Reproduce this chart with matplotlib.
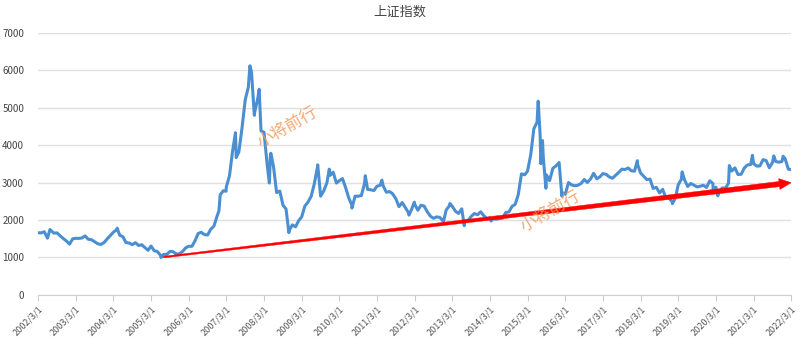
import numpy as np
import matplotlib
matplotlib.use("Agg")
import matplotlib.pyplot as plt
import matplotlib.dates as mdates
from matplotlib.patches import Polygon
from matplotlib.transforms import IdentityTransform
import pandas as pd

plt.rcParams['font.family'] = ['Noto Sans CJK SC', 'DejaVu Sans']

# monthly levels (first trading day of each month), 2002/3 .. 2022/3
monthly = [
    1660, 1657, 1688, 1515, 1732, 1651, 1657, 1581, 1507, 1442,
    1357, 1500, 1512, 1510, 1521, 1576, 1487, 1476, 1421, 1367, 1348, 1397,
    1497, 1590, 1675, 1742, 1595, 1555, 1399, 1386, 1342, 1396, 1320, 1340,
    1266, 1191, 1306, 1181, 1159, 1060, 1080, 1083, 1162, 1155, 1092, 1099,
    1161, 1258, 1299, 1298, 1440, 1641, 1672, 1612, 1601, 1752, 1837, 2099,
    2675, 2786, 2881, 3183, 3841, 4109, 3820, 4471, 5218, 5552, 5954, 4871,
    5261, 4383, 4348, 3472, 3693, 3433, 2736, 2775, 2397, 2293, 1728, 1871,
    1820, 1990, 2082, 2373, 2477, 2632, 2959, 3412, 2667, 2779, 2996, 3195,
    3277, 2989, 3051, 3109, 2870, 2592, 2398, 2638, 2638, 2655, 2978, 2820,
    2808, 2790, 2905, 2928, 2911, 2743, 2762, 2701, 2567, 2359, 2468, 2333,
    2199, 2292, 2428, 2262, 2396, 2373, 2225, 2103, 2047, 2086, 2069, 1980,
    2269, 2385, 2365, 2236, 2178, 2300, 1979, 1994, 2098, 2175, 2141, 2220,
    2116, 2033, 2056, 2033, 2026, 2039, 2048, 2201, 2217, 2364, 2420, 2683,
    3235, 3210, 3310, 3748, 4441, 4612, 4277, 3664, 3206, 3053, 3383, 3445,
    3539, 2738, 2688, 3004, 2938, 2917, 2930, 2979, 3085, 3005, 3100, 3250,
    3104, 3159, 3242, 3223, 3155, 3117, 3192, 3273, 3361, 3349, 3393, 3317,
    3307, 3481, 3259, 3169, 3082, 3095, 2847, 2876, 2725, 2821, 2603, 2588,
    2494, 2585, 2941, 3091, 3078, 2899, 2979, 2933, 2886, 2905, 2929, 2872,
    3050, 2977, 2880, 2750, 2860, 2852, 2985, 3310, 3396, 3218, 3225, 3392,
    3473, 3483, 3509, 3442, 3447, 3615, 3591, 3397, 3544, 3568, 3547, 3564,
    3640, 3361, 3350,
]
monthly_dates = pd.date_range("2002-03-01", "2022-03-01", freq="MS")

# intra-month highs and lows
extreme_dates = [
    "2002-06-25", "2004-04-07", "2005-06-06", "2006-12-20", "2007-02-27",
    "2007-05-29", "2007-06-05", "2007-10-16", "2007-11-28", "2008-01-14",
    "2008-04-22", "2008-05-06", "2008-10-28", "2009-08-04", "2009-09-01",
    "2009-11-24", "2010-07-02", "2010-11-08", "2011-04-18", "2012-01-06",
    "2012-02-27", "2012-12-04", "2013-02-06", "2013-06-25", "2014-03-12",
    "2015-06-12", "2015-07-08", "2015-07-24", "2015-08-26", "2016-01-28",
    "2018-01-29", "2019-01-04", "2019-04-08", "2020-02-03", "2020-03-19",
    "2020-07-09", "2021-02-18", "2021-09-13", "2021-12-13",
]
extreme_vals = [
    1748, 1783, 998, 2250, 2770,
    4335, 3670, 6124, 4800, 5497,
    2990, 3786, 1664, 3478, 2639,
    3361, 2319, 3186, 3067, 2132,
    2478, 1949, 2444, 1849, 1974,
    5178, 3507, 4124, 2850, 2638,
    3587, 2440, 3288, 2746, 2646,
    3458, 3731, 3715, 3708,
]

s = pd.concat([
    pd.Series(monthly, index=monthly_dates),
    pd.Series(extreme_vals, index=pd.to_datetime(extreme_dates)),
]).sort_index()

tick_dates = pd.date_range("2002-03-01", "2022-03-01", freq="12MS")
tick_labels = [f"{d.year}/3/1" for d in tick_dates]

arrow_start = ("2005-07-01", 1010)
arrow_end = ("2022-03-01", 3000)
watermark = "小将前行"

fig = plt.figure(figsize=(8, 3.37), dpi=100)
ax = fig.add_axes([0.0475, 0.125, 0.9415, 0.777])

ax.plot(s.index, s.values, color="#4b8fd3", linewidth=2.2)

ax.set_xlim(tick_dates[0], tick_dates[-1])
ax.set_ylim(0, 7000)
ax.set_yticks(np.arange(0, 7001, 1000))
ax.set_xticks(tick_dates)
ax.set_xticklabels(tick_labels, rotation=45, ha="right", rotation_mode="anchor")
ax.tick_params(axis="x", labelsize=6.5, colors="#555555", length=4, color="#cccccc", pad=3)
ax.tick_params(axis="y", labelsize=7, colors="#444444", length=0, pad=10)
ax.grid(axis="y", color="#e0e0e0", linewidth=1)
ax.set_axisbelow(True)
for side in ["top", "right", "left"]:
    ax.spines[side].set_visible(False)
ax.spines["bottom"].set_color("#d0d0d0")

# tapered red arrow, built in pixel space so the taper is even
p0 = ax.transData.transform((mdates.date2num(pd.Timestamp(arrow_start[0])), arrow_start[1]))
p1 = ax.transData.transform((mdates.date2num(pd.Timestamp(arrow_end[0])), arrow_end[1]))
d = (p1 - p0) / np.linalg.norm(p1 - p0)
n = np.array([-d[1], d[0]])
head_len, head_w, w0, w1 = 12, 5.5, 0.8, 2.6
base = p1 - d * head_len
pts = [p0 + n * w0, base + n * w1, base + n * head_w, p1,
       base - n * head_w, base - n * w1, p0 - n * w0]
ax.add_patch(Polygon(pts, closed=True, transform=IdentityTransform(),
                     facecolor="red", edgecolor="red", linewidth=0.3, zorder=3))

ax.text(0.331, 0.641, watermark, transform=ax.transAxes, rotation=30,
        fontsize=12, color="#f39a5a", alpha=0.85, ha="center", va="center", zorder=4)
ax.text(0.68, 0.317, watermark, transform=ax.transAxes, rotation=30,
        fontsize=12, color="#f39a5a", alpha=0.85, ha="center", va="center", zorder=4)

fig.text(0.5, 0.965, "上证指数", ha="center", va="center", fontsize=9.5, color="#464646")

fig.savefig("out.png", dpi=100)
